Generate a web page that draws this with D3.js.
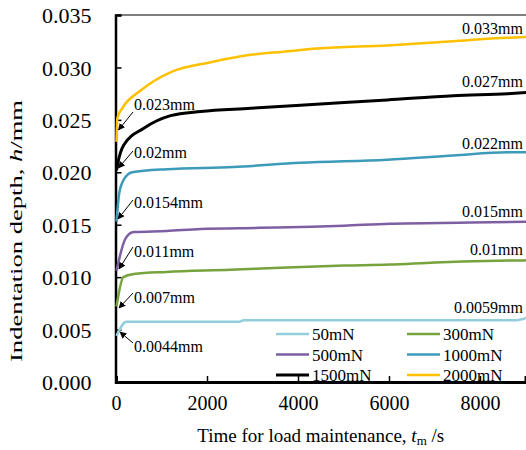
<!DOCTYPE html>
<html><head><meta charset="utf-8">
<script src="https://cdn.jsdelivr.net/npm/d3@7/dist/d3.min.js"></script>
<style>
body{margin:0;background:#fff;}
text{font-family:"Liberation Serif","Times New Roman",serif;fill:#000;}
</style></head>
<body><svg id="c" width="526" height="450"></svg>
<script>
// ---- data ----
const seriesNames = ["50mN","300mN","500mN","1000mN","1500mN","2000mN"];
const t50 = [0, 220, 2700, 2800, 8800, 9000];
const v50 = [0.0044, 0.00575, 0.00575, 0.0059, 0.0059, 0.0061];
const t300 = [0, 150, 380, 1100, 2500, 3600, 5000, 6000, 7000, 8100, 9000];
const v300 = [0.0072, 0.0100, 0.0103, 0.0105, 0.0107, 0.0109, 0.0111, 0.0112, 0.0114, 0.01155, 0.0116];
const t500 = [0, 200, 380, 1100, 1850, 3150, 4300, 5000, 6000, 7800, 9000];
const v500 = [0.0106, 0.0137, 0.0143, 0.0144, 0.0146, 0.0147, 0.0148, 0.0149, 0.0151, 0.0152, 0.01528];
const t1000 = [0, 60, 160, 345, 1100, 2570, 4040, 5950, 7400, 8600, 9000];
const v1000 = [0.0153, 0.0180, 0.0193, 0.0200, 0.0203, 0.0205, 0.0209, 0.0212, 0.0216, 0.0219, 0.0219];
const t1500 = [0, 30, 160, 600, 1190, 1850, 2950, 4040, 5950, 7400, 8600, 9000];
const v1500 = [0.0202, 0.0209, 0.0226, 0.0242, 0.0254, 0.0258, 0.0261, 0.0264, 0.0269, 0.0273, 0.0275, 0.0276];
const t2000 = [0, 20, 125, 530, 1220, 2070, 2950, 3670, 4410, 5950, 7400, 8440, 9000];
const v2000 = [0.0229, 0.0252, 0.0261, 0.0278, 0.0296, 0.0305, 0.0312, 0.0315, 0.0318, 0.0321, 0.0325, 0.0328, 0.0329];
const xTicks = [0, 2000, 4000, 6000, 8000];
const yTicks = [0, 0.005, 0.010, 0.015, 0.020, 0.025, 0.030, 0.035];
const startLabels = ["0.023mm","0.02mm","0.0154mm","0.011mm","0.007mm","0.0044mm"];
const endLabels = ["0.033mm","0.027mm","0.022mm","0.015mm","0.01mm","0.0059mm"];

// ---- layout ----
const colors = ["#92CDDC","#77A33C","#7E5FA3","#3C9BB8","#000000","#FFC000"];
const widths = [2.5,2.5,2.5,2.5,3,2.5];
const svg = d3.select("#c");
const L=116, R=525.5, T=15, B=382;
const x = d3.scaleLinear().domain([0,9000]).range([L,R]);
const y = d3.scaleLinear().domain([0,0.035]).range([B,T]);

const defs = svg.append("defs");
defs.append("marker").attr("id","ah").attr("viewBox","0 0 10 10").attr("refX",9).attr("refY",5)
  .attr("markerWidth",7).attr("markerHeight",7).attr("markerUnits","userSpaceOnUse").attr("orient","auto")
  .append("path").attr("d","M0,0L10,5L0,10z").attr("fill","#000");

// top border
svg.append("line").attr("x1",L).attr("x2",526).attr("y1",T).attr("y2",T).attr("stroke","#555").attr("stroke-width",1.5);

// axes
const yAxis = d3.axisLeft(y).tickValues(yTicks).tickSize(-6).tickPadding(24).tickFormat(d3.format(".3f"));
const gy = svg.append("g").attr("transform",`translate(${L-0.5},0)`).call(yAxis);
gy.select(".domain").attr("stroke","#000").attr("stroke-width",2.5);
gy.selectAll(".tick line").attr("stroke","#000").attr("stroke-width",1.5);
gy.selectAll(".tick text").attr("font-size",22).attr("font-family","Liberation Serif").attr("dy","0.35em");

const xAxis = d3.axisBottom(x).tickValues(xTicks).tickSize(-6).tickPadding(24).tickFormat(d3.format("d"));
const gx = svg.append("g").attr("transform",`translate(0,${B})`).call(xAxis);
gx.select(".domain").attr("stroke","#000").attr("stroke-width",3);
gx.selectAll(".tick line").attr("stroke","#000").attr("stroke-width",1.5);
gx.selectAll(".tick text").attr("font-size",20).attr("font-family","Liberation Serif").attr("dy","0.2em");

// series (drawn over the axis line, as in the reference)
const ts=[t50,t300,t500,t1000,t1500,t2000], vs=[v50,v300,v500,v1000,v1500,v2000];
const line = d3.line().x(d=>x(d[0])+0.5).y(d=>y(d[1])).curve(d3.curveMonotoneX);
ts.forEach((t,i)=>{
  svg.append("path").datum(t.map((tt,j)=>[tt,vs[i][j]]))
    .attr("d",line).attr("fill","none").attr("stroke",colors[i]).attr("stroke-width",widths[i])
    .attr("stroke-linejoin","round");
});

// axis titles
const xt = svg.append("text").attr("x",(L+R)/2).attr("y",442).attr("text-anchor","middle").attr("font-size",19);
xt.append("tspan").text("Time for load maintenance, ");
xt.append("tspan").attr("font-style","italic").text("t");
xt.append("tspan").attr("font-size",13).attr("dy",3).text("m");
xt.append("tspan").attr("dy",-3).text(" /s");

const yt = svg.append("text").attr("transform","translate(22,231) rotate(-90)").attr("text-anchor","middle")
  .attr("font-size",17).attr("textLength",262).attr("lengthAdjust","spacingAndGlyphs");
yt.append("tspan").text("Indentation depth, ");
yt.append("tspan").attr("font-style","italic").text("h");
yt.append("tspan").text("/mm");

// start annotations
const startPos = [[110,[133,112],[118.5,130]],[158,[133,151],[118.5,168]],[208,[133,200],[118,219]],
                  [256.5,[133,247],[119,269]],[303,[133,293],[119,308]],[352,[133,343],[120,332]]];
startLabels.forEach((s,i)=>{
  const p=startPos[i];
  svg.append("text").attr("x",134).attr("y",p[0]).attr("font-size",16).text(s);
  svg.append("line").attr("x1",p[1][0]).attr("y1",p[1][1]).attr("x2",p[2][0]).attr("y2",p[2][1])
    .attr("stroke","#000").attr("stroke-width",1).attr("marker-end","url(#ah)");
});
// end annotations
const endY=[34,87,149,216.5,255,313];
endLabels.forEach((s,i)=>{
  svg.append("text").attr("x",523).attr("y",endY[i]).attr("text-anchor","end").attr("font-size",16).text(s);
});

// legend
const lg = svg.append("g");
seriesNames.forEach((n,i)=>{
  const col=i%2, row=Math.floor(i/2);
  const lx = col===0?276:407, ly = 334+row*20.5;
  lg.append("line").attr("x1",lx).attr("x2",lx+33).attr("y1",ly).attr("y2",ly)
    .attr("stroke",colors[i]).attr("stroke-width",widths[i]);
  lg.append("text").attr("x",lx+36).attr("y",ly+6).attr("font-size",17).text(n);
});
</script></body></html>
